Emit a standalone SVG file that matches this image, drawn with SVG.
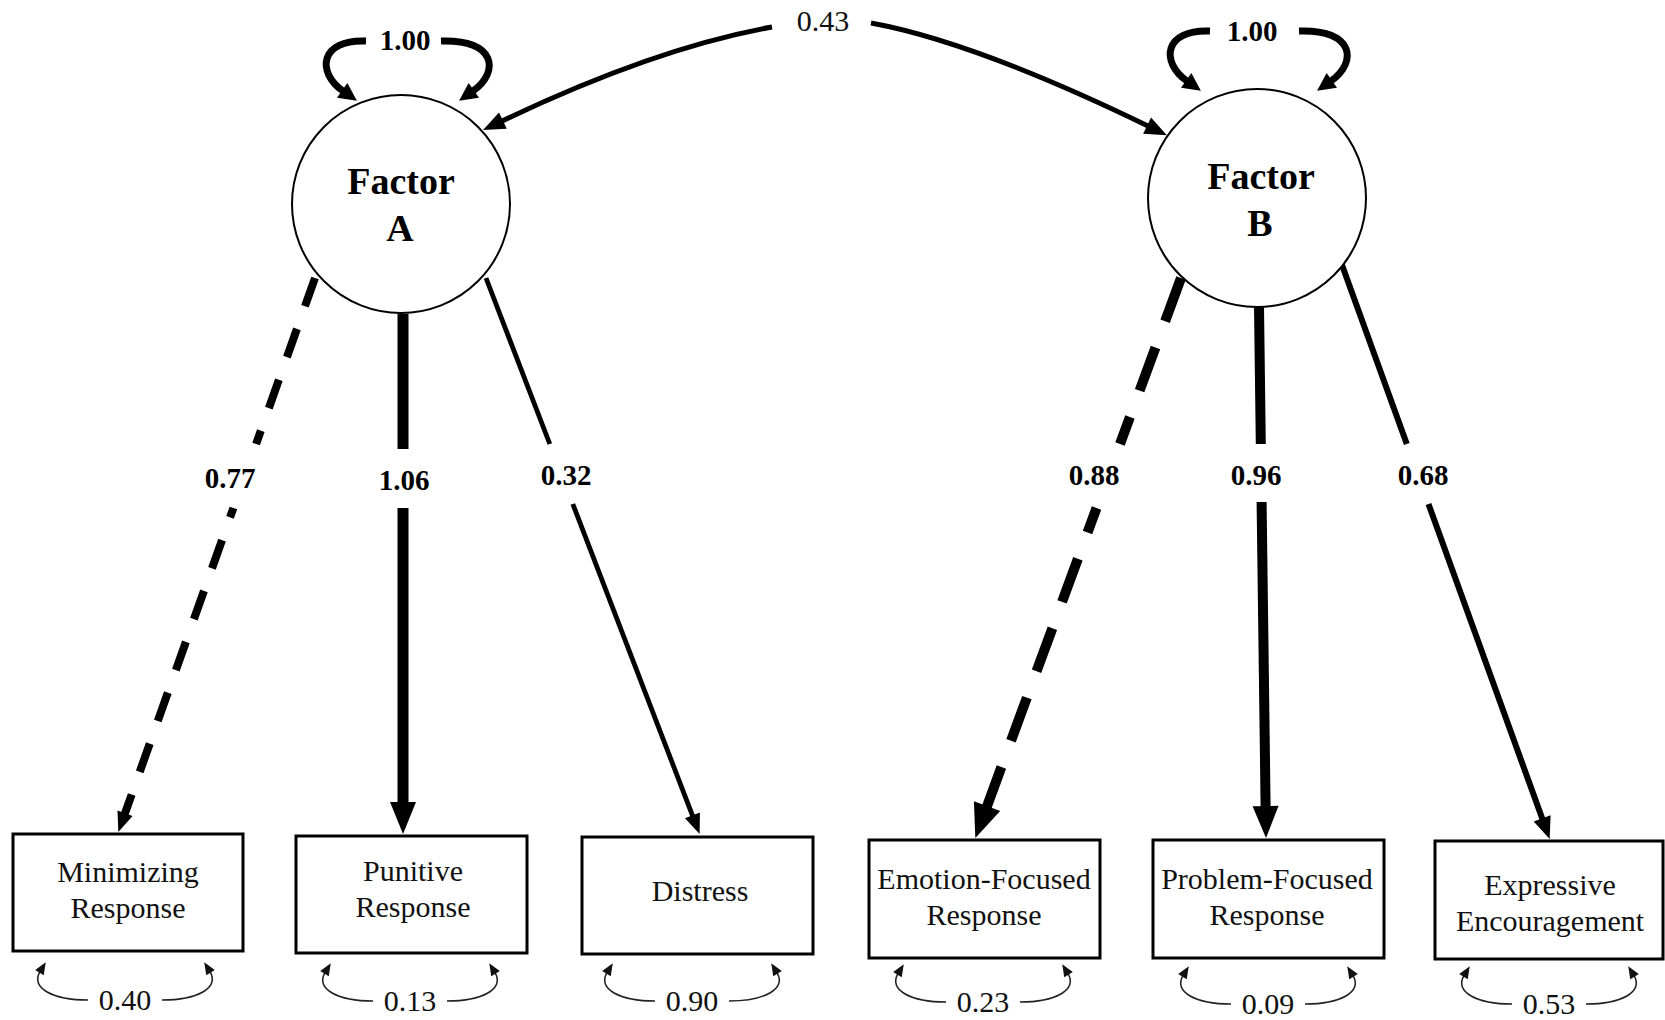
<svg xmlns="http://www.w3.org/2000/svg" width="1665" height="1020" viewBox="0 0 1665 1020">
<style>
.bg{fill:#fff}
.lat{fill:#fff;stroke:#000;stroke-width:2}
.obs{fill:#fff;stroke:#000;stroke-width:3}
.lt{font-family:"Liberation Serif","Times New Roman",serif;font-weight:bold;font-size:38px;text-anchor:middle;fill:#000}
.ot{font-family:"Liberation Serif","Times New Roman",serif;font-size:30px;text-anchor:middle;fill:#111}
.bl{font-family:"Liberation Serif","Times New Roman",serif;font-weight:bold;font-size:29px;text-anchor:middle;fill:#000}
.rl{font-family:"Liberation Serif","Times New Roman",serif;font-size:30px;text-anchor:middle;fill:#111}
.ln{fill:none;stroke:#000;stroke-linecap:butt}
.res{fill:none;stroke:#222;stroke-width:1.6}
</style>
<defs>
<marker id="ahBig" markerUnits="userSpaceOnUse" markerWidth="32" markerHeight="26" viewBox="0 0 32 26" refX="1" refY="13" orient="auto" overflow="visible"><path d="M0,0 L32,13 L0,26 Z"/></marker>
<marker id="ahEmo" markerUnits="userSpaceOnUse" markerWidth="34" markerHeight="28" viewBox="0 0 34 28" refX="1" refY="14" orient="auto" overflow="visible"><path d="M0,0 L34,14 L0,28 Z"/></marker>
<marker id="ahMed" markerUnits="userSpaceOnUse" markerWidth="22" markerHeight="18" viewBox="0 0 22 18" refX="1" refY="9" orient="auto" overflow="visible"><path d="M0,0 L22,9 L0,18 Z"/></marker>
<marker id="ahSm" markerUnits="userSpaceOnUse" markerWidth="20" markerHeight="16" viewBox="0 0 20 16" refX="1" refY="8" orient="auto" overflow="visible"><path d="M0,0 L20,8 L0,16 Z"/></marker>
<marker id="ahLoop" markerUnits="userSpaceOnUse" markerWidth="18" markerHeight="18" viewBox="0 0 18 18" refX="1" refY="9" orient="auto" overflow="visible"><path d="M0,0 L18,9 L0,18 Z"/></marker>
<marker id="ahRes" markerUnits="userSpaceOnUse" markerWidth="12" markerHeight="10" viewBox="0 0 12 10" refX="1" refY="5" orient="auto" overflow="visible"><path d="M0,0 L12,5 L0,10 Z" fill="#111"/></marker>
<g id="resid">
<path class="res" d="M-37,0 C-72,0 -95,-12 -85,-28.3" marker-end="url(#ahRes)"/>
<path class="res" d="M37,0 C72,0 95,-12 85,-28.3" marker-end="url(#ahRes)"/>
</g>
<g id="loopL"><path class="ln" stroke-width="7" d="M366,41 C320,39 316,72 343,91" marker-end="url(#ahLoop)"/></g>
<g id="loopR"><path class="ln" stroke-width="7" d="M441,41 C496,39 500,72 473,91" marker-end="url(#ahLoop)"/></g>
</defs>
<rect class="bg" x="0" y="0" width="1665" height="1020"/>

<g id="connectors">
<!-- covariance -->
<path class="ln" stroke-width="5" d="M772,27 Q655,48 502,121" marker-end="url(#ahMed)"/>
<path class="ln" stroke-width="5" d="M871,23 Q975,42 1148,126" marker-end="url(#ahMed)"/>
<text class="rl" x="823" y="31">0.43</text>
<!-- self loops A -->
<use href="#loopL"/>
<use href="#loopR"/>
<text class="bl" x="405" y="50">1.00</text>
<!-- self loops B -->
<use href="#loopL" x="844" y="-10"/>
<use href="#loopR" x="858" y="-10"/>
<text class="bl" x="1252" y="41">1.00</text>
<!-- A loadings -->
<path class="ln" stroke-width="8" stroke-dasharray="30 24" d="M315,278 L256.1,444"/>
<path class="ln" stroke-width="8" stroke-dasharray="30 24" stroke-dashoffset="20" d="M233.4,508 L124.7,814.2" marker-end="url(#ahSm)"/>
<text class="bl" x="230" y="488">0.77</text>
<path class="ln" stroke-width="11" d="M403,314 L403,449"/>
<path class="ln" stroke-width="11" d="M403,508 L403,803" marker-end="url(#ahBig)"/>
<text class="bl" x="404" y="490">1.06</text>
<path class="ln" stroke-width="4.8" d="M486,278 L549.8,444"/>
<path class="ln" stroke-width="4.8" d="M572.8,504 L692.8,816.3" marker-end="url(#ahSm)"/>
<text class="bl" x="566" y="485">0.32</text>
<!-- B loadings -->
<path class="ln" stroke-width="10" stroke-dasharray="46 28" d="M1181,278 L1120,444"/>
<path class="ln" stroke-width="10" stroke-dasharray="46 28" stroke-dashoffset="20" d="M1096.5,508 L986.7,807.1" marker-end="url(#ahEmo)"/>
<text class="bl" x="1094" y="485">0.88</text>
<path class="ln" stroke-width="10" d="M1259,306 L1260.8,444"/>
<path class="ln" stroke-width="10" d="M1261.6,502 L1265.6,807" marker-end="url(#ahBig)"/>
<text class="bl" x="1256" y="485">0.96</text>
<path class="ln" stroke-width="6" d="M1342,265 L1406.8,444"/>
<path class="ln" stroke-width="6" d="M1428.5,504 L1542.5,819.3" marker-end="url(#ahMed)"/>
<text class="bl" x="1423" y="485">0.68</text>
<!-- residuals -->
<use href="#resid" x="125" y="1000"/>
<use href="#resid" x="410" y="1001"/>
<use href="#resid" x="692" y="1001"/>
<use href="#resid" x="983" y="1002"/>
<use href="#resid" x="1268" y="1004"/>
<use href="#resid" x="1549" y="1004"/>
<text class="rl" x="125" y="1010">0.40</text>
<text class="rl" x="410" y="1011">0.13</text>
<text class="rl" x="692" y="1011">0.90</text>
<text class="rl" x="983" y="1012">0.23</text>
<text class="rl" x="1268" y="1014">0.09</text>
<text class="rl" x="1549" y="1014">0.53</text>
</g>

<g id="factorA">
<circle class="lat" cx="401" cy="204" r="109"/>
<text class="lt" x="401" y="194">Factor</text>
<text class="lt" x="400" y="241">A</text>
</g>
<g id="factorB">
<circle class="lat" cx="1257" cy="198" r="109"/>
<text class="lt" x="1261" y="189">Factor</text>
<text class="lt" x="1260" y="236">B</text>
</g>

<g id="minimizing">
<rect class="obs" x="13" y="834" width="230" height="117"/>
<text class="ot" x="128" y="882">Minimizing</text>
<text class="ot" x="128" y="918">Response</text>
</g>
<g id="punitive">
<rect class="obs" x="296" y="836" width="231" height="117"/>
<text class="ot" x="413" y="881">Punitive</text>
<text class="ot" x="413" y="917">Response</text>
</g>
<g id="distress">
<rect class="obs" x="582" y="837" width="231" height="117"/>
<text class="ot" x="700" y="901">Distress</text>
</g>
<g id="emotion">
<rect class="obs" x="869" y="840" width="231" height="118"/>
<text class="ot" x="984" y="889">Emotion-Focused</text>
<text class="ot" x="984" y="925">Response</text>
</g>
<g id="problem">
<rect class="obs" x="1153" y="840" width="231" height="118"/>
<text class="ot" x="1267" y="889">Problem-Focused</text>
<text class="ot" x="1267" y="925">Response</text>
</g>
<g id="expressive">
<rect class="obs" x="1435" y="841" width="228" height="118"/>
<text class="ot" x="1550" y="895">Expressive</text>
<text class="ot" x="1550" y="931">Encouragement</text>
</g>
</svg>
